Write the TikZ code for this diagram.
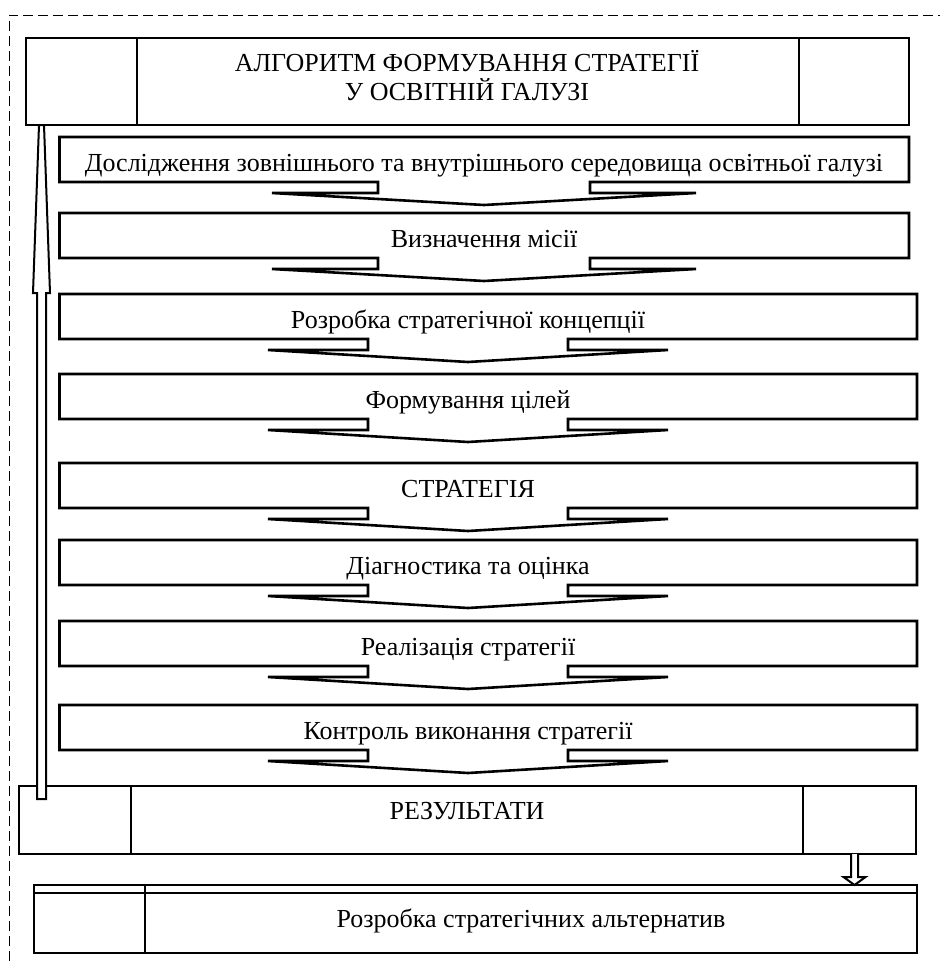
\documentclass[tikz,border=0pt]{standalone}
\usepackage{fontspec}
\setmainfont{Liberation Serif}
\usetikzlibrary{calc}

\begin{document}
\begin{tikzpicture}[x=1pt,y=-1pt,
  frame/.style={draw, line width=2.6pt, line join=miter},
  steptext/.style={font=\fontsize{26}{30}\selectfont, inner sep=0pt, anchor=base},
  blockarrow/.style={draw, fill=white, line width=2pt, line join=miter}]
\useasboundingbox (0,0) rectangle (940,961);

\draw[dash pattern=on 10pt off 5pt, line width=1pt] (9,961) -- (9,15) -- (940,15);

\foreach \t/\r/\c/\s/\txt [count=\i] in {
    137/909/484/106/{Дослідження зовнішнього та внутрішнього середовища освітньої галузі},
    213/909/484/106/{Визначення місії},
    294/917/468/100/{Розробка стратегічної концепції},
    374/917/468/100/{Формування цілей},
    463/917/468/100/{СТРАТЕГІЯ},
    540/917/468/100/{Діагностика та оцінка},
    621/917/468/100/{Реалізація стратегії},
    705/917/468/100/{Контроль виконання стратегії}} {
  \draw[frame] (\c-\s,\t+45) -- (59.5,\t+45) -- (59.5,\t) -- (\r,\t) -- (\r,\t+45)
    -- (\c+\s,\t+45) -- (\c+\s,\t+56) -- (\c+2*\s,\t+56) -- (\c,\t+68)
    -- (\c-2*\s,\t+56) -- (\c-\s,\t+56) -- cycle;
  \node[steptext] (step\i) at (\c,\t+34.5) {\txt};
}

\draw[frame] (19,786) rectangle (916,854);
\draw[frame] (131,786) -- (131,854) (803,786) -- (803,854);
\node[steptext] (res) at (467,819) {РЕЗУЛЬТАТИ};

\draw[frame] (34,885) rectangle (917,953);
\draw[frame] (34,893) -- (917,893) (145,885) -- (145,953);
\node[steptext] (alt) at (531,927) {Розробка стратегічних альтернатив};

\coordinate (upfoot) at (41.5,799);
\coordinate (uptip) at (41.5,125);
\draw[blockarrow] ($(upfoot)+(-4.5,0)$) -- ($(uptip)+(-4.5,168)$) -- ($(uptip)+(-8.5,168)$)
  -- ($(uptip)+(-2.5,0)$) -- ($(uptip)+(2.5,0)$) -- ($(uptip)+(8.5,168)$)
  -- ($(uptip)+(4.5,168)$) -- ($(upfoot)+(4.5,0)$) -- cycle;

\coordinate (dnfoot) at (854.5,854);
\coordinate (dntip) at (854.5,885);
\draw[blockarrow] ($(dnfoot)+(-3.5,0)$) -- ($(dntip)+(-3.5,-8)$) -- ($(dntip)+(-11,-8)$)
  -- (dntip) -- ($(dntip)+(11,-8)$) -- ($(dntip)+(3.5,-8)$) -- ($(dnfoot)+(3.5,0)$);

\draw[frame] (26,38) rectangle (909,125);
\draw[frame] (137,38) -- (137,125) (799,38) -- (799,125);
\node[steptext] (algo1) at (467,71) {АЛГОРИТМ ФОРМУВАННЯ СТРАТЕГІЇ};
\node[steptext] (algo2) at (467,100) {У ОСВІТНІЙ ГАЛУЗІ};
\end{tikzpicture}
\end{document}
